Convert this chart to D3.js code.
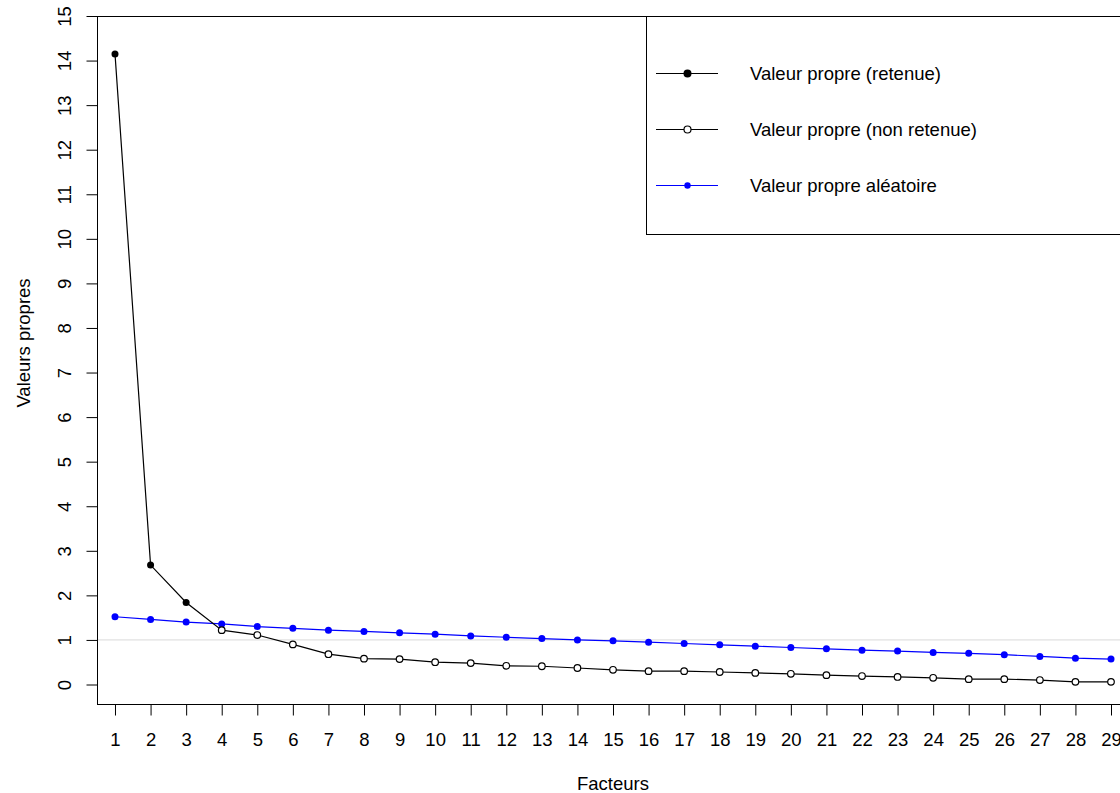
<!DOCTYPE html>
<html>
<head>
<meta charset="utf-8">
<script src="https://cdn.jsdelivr.net/npm/d3@7.9.0/dist/d3.min.js"></script>
<style>
  html, body { margin: 0; padding: 0; background: #fff; }
  svg { display: block; font-family: "Liberation Sans", Arial, Helvetica, sans-serif; }
</style>
</head>
<body>
<div id="chart"></div>
<script>
// factor numbers
const factors = d3.range(1, 30);
// observed eigenvalues
const eigenvalues = [14.15, 2.68, 1.84, 1.22, 1.11, 0.90, 0.68, 0.58, 0.57, 0.50,
  0.48, 0.42, 0.41, 0.37, 0.33, 0.30, 0.30, 0.28, 0.26, 0.24,
  0.21, 0.19, 0.17, 0.15, 0.12, 0.12, 0.10, 0.06, 0.06];
// random eigenvalues (parallel analysis)
const randomValues = [1.52, 1.46, 1.40, 1.36, 1.30, 1.26, 1.22, 1.19, 1.16, 1.13,
  1.09, 1.06, 1.03, 1.00, 0.98, 0.95, 0.92, 0.89, 0.86, 0.83,
  0.80, 0.77, 0.75, 0.72, 0.70, 0.67, 0.63, 0.59, 0.57];
const nRetained = 3;
const yTicks = d3.range(0, 16);
const legendLabels = ['Valeur propre (retenue)', 'Valeur propre (non retenue)', 'Valeur propre aléatoire'];

const width = 1120, height = 793;
const plot = { left: 97, top: 16, right: 1129, bottom: 704 };
const fontSize = 18.5;

const x = d3.scaleLinear().domain([0.494, 29.506]).range([plot.left, plot.right]);
const y = d3.scaleLinear().domain([-0.4375, 15]).range([plot.bottom, plot.top]);

const svg = d3.select('#chart').append('svg')
  .attr('width', width)
  .attr('height', height);

// reference line at eigenvalue = 1
svg.append('line')
  .attr('x1', plot.left).attr('x2', plot.right)
  .attr('y1', y(1)).attr('y2', y(1))
  .attr('stroke', '#d9d9d9').attr('stroke-width', 1);

// box
svg.append('rect')
  .attr('x', plot.left + 0.5).attr('y', plot.top + 0.5)
  .attr('width', plot.right - plot.left).attr('height', plot.bottom - plot.top)
  .attr('fill', 'none').attr('stroke', '#000').attr('stroke-width', 1);

// x axis
const xAxis = svg.append('g')
  .attr('transform', `translate(0, ${plot.bottom + 0.5})`)
  .call(d3.axisBottom(x).tickValues(factors).tickFormat(d3.format('d')).tickSize(11).tickPadding(17));
xAxis.select('.domain').remove();
xAxis.selectAll('text').attr('font-size', fontSize).attr('font-family', null).attr('fill', '#000');

// y axis (R style: labels parallel to axis)
const yAxis = svg.append('g')
  .attr('transform', `translate(${plot.left + 0.5}, 0)`)
  .call(d3.axisLeft(y).tickValues(yTicks).tickSize(11));
yAxis.select('.domain').remove();
yAxis.selectAll('text')
  .attr('x', null).attr('dy', null)
  .attr('text-anchor', 'middle')
  .attr('dominant-baseline', 'central')
  .attr('transform', 'translate(-33,0) rotate(-90)')
  .attr('font-size', fontSize).attr('font-family', null).attr('fill', '#000');

// axis titles
svg.append('text')
  .attr('x', (plot.left + plot.right) / 2).attr('y', 790)
  .attr('text-anchor', 'middle').attr('font-size', fontSize)
  .text('Facteurs');
svg.append('text')
  .attr('transform', `translate(30, 343) rotate(-90)`)
  .attr('text-anchor', 'middle').attr('font-size', fontSize)
  .text('Valeurs propres');

const line = d3.line().x((d, i) => x(factors[i])).y(d => y(d));

// random eigenvalue series
svg.append('path')
  .attr('d', line(randomValues))
  .attr('fill', 'none').attr('stroke', '#0000ff').attr('stroke-width', 1.2);
svg.append('g').selectAll('circle')
  .data(randomValues)
  .join('circle')
  .attr('cx', (d, i) => x(factors[i]))
  .attr('cy', d => y(d))
  .attr('r', 3.5)
  .attr('fill', '#0000ff');

// observed eigenvalue series
svg.append('path')
  .attr('d', line(eigenvalues))
  .attr('fill', 'none').attr('stroke', '#000').attr('stroke-width', 1.2);
svg.append('g').selectAll('circle')
  .data(eigenvalues)
  .join('circle')
  .attr('cx', (d, i) => x(factors[i]))
  .attr('cy', d => y(d))
  .attr('r', (d, i) => i < nRetained ? 3.5 : 3.3)
  .attr('fill', (d, i) => i < nRetained ? '#000' : '#fff')
  .attr('stroke', '#000')
  .attr('stroke-width', (d, i) => i < nRetained ? 0 : 1.2);

// legend
const legend = svg.append('g');
legend.append('rect')
  .attr('x', 646.5).attr('y', plot.top + 0.5)
  .attr('width', 500).attr('height', 218)
  .attr('fill', '#fff').attr('stroke', '#000').attr('stroke-width', 1);

const legendItems = [
  { label: legendLabels[0], color: '#000', fill: '#000', r: 4, sw: 0 },
  { label: legendLabels[1], color: '#000', fill: '#fff', r: 3.5, sw: 1.2 },
  { label: legendLabels[2], color: '#0000ff', fill: '#0000ff', r: 3.2, sw: 0 }
];
const rowY = [73.5, 129.5, 185.5];
legendItems.forEach((item, i) => {
  const g = legend.append('g').attr('transform', `translate(0, ${rowY[i]})`);
  g.append('line').attr('x1', 656).attr('x2', 718).attr('y1', 0).attr('y2', 0)
    .attr('stroke', item.color).attr('stroke-width', 1.2);
  g.append('circle').attr('cx', 687.5).attr('cy', 0).attr('r', item.r)
    .attr('fill', item.fill).attr('stroke', item.color).attr('stroke-width', item.sw);
  g.append('text').attr('x', 750).attr('y', 0).attr('dy', '0.35em')
    .attr('font-size', fontSize).text(item.label);
});
</script>
</body>
</html>
